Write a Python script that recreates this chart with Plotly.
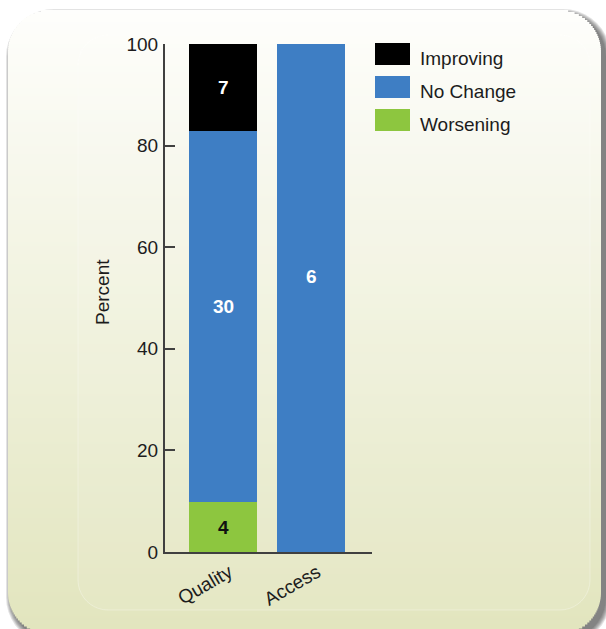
import math
import plotly.graph_objects as go

# ---- data ----
categories = ["Quality", "Access"]
improving = [7, 0]
no_change = [30, 6]
worsening = [4, 0]
series_names = ["Improving", "No Change", "Worsening"]
y_tick_values = [0, 20, 40, 60, 80, 100]

# ---- style ----
W, H = 606, 629
PLOT_L, PLOT_R, PLOT_T, PLOT_B = 165, 372, 44, 552
FONT = "Liberation Sans, Arial, Helvetica, sans-serif"
TEXT_COLOR = "#1c1c1c"
AXIS_COLOR = "#404040"
colors = {"Improving": "#000000", "No Change": "#3e7ec4", "Worsening": "#8dc63f"}
label_font_colors = {"Improving": "#ffffff", "No Change": "#ffffff", "Worsening": "#111111"}
# vertical nudges (px) for segment labels
label_nudge = {("No Change", "Quality"): 10, ("No Change", "Access"): 22}

counts = {"Improving": improving, "No Change": no_change, "Worsening": worsening}
totals = [sum(v) for v in zip(improving, no_change, worsening)]
percent = {k: [c / t * 100 for c, t in zip(v, totals)] for k, v in counts.items()}


def px_x(px):
    return (px - PLOT_L) / (PLOT_R - PLOT_L)


def px_y(py):
    return (PLOT_B - py) / (PLOT_B - PLOT_T)


def rounded_path(x0, y0, x1, y1, r, n=10):
    pts = []
    corners = [
        (x1 - r, y0 + r, -90, 0),
        (x1 - r, y1 - r, 0, 90),
        (x0 + r, y1 - r, 90, 180),
        (x0 + r, y0 + r, 180, 270),
    ]
    for cx, cy, a0, a1 in corners:
        for i in range(n + 1):
            a = math.radians(a0 + (a1 - a0) * i / n)
            pts.append((cx + r * math.cos(a), cy + r * math.sin(a)))
    return "M " + " L ".join(f"{px_x(x):.5f},{px_y(y):.5f}" for x, y in pts) + " Z"


shapes = []

# card shadow (soft, offset down-right)
CX0, CY0, CX1, CY1, CR = 8, 10, 601, 634, 42
for i in range(6):
    grow = 6 - i
    shapes.append(dict(
        type="path", xref="paper", yref="paper", layer="below",
        path=rounded_path(CX0 + 4 - grow, CY0 + 5 - grow, CX1 + 4 + grow, CY1 + 5 + grow, CR + grow),
        fillcolor="rgba(40,40,40,0.13)", line=dict(width=0),
    ))

# card body with vertical gradient, built from thin strips
top_rgb = (254, 254, 252)
bot_rgb = (226, 229, 190)
step = 2
py = CY0
while py < min(CY1, H + 2):
    mid = py + step / 2
    inset = 0.0
    if mid < CY0 + CR:
        dy = CY0 + CR - mid
        inset = CR - math.sqrt(max(CR * CR - dy * dy, 0))
    elif mid > CY1 - CR:
        dy = mid - (CY1 - CR)
        inset = CR - math.sqrt(max(CR * CR - dy * dy, 0))
    t = (mid - CY0) / (H - CY0)
    t = min(max(t, 0), 1)
    c = tuple(round(a + (b - a) * t) for a, b in zip(top_rgb, bot_rgb))
    shapes.append(dict(
        type="rect", xref="paper", yref="paper", layer="below",
        x0=px_x(CX0 + inset), x1=px_x(CX1 - inset),
        y0=px_y(py + step + 0.6), y1=px_y(py),
        fillcolor=f"rgb{c}", line=dict(width=0),
    ))
    py += step

# faint inner panel
shapes.append(dict(
    type="path", xref="paper", yref="paper", layer="below",
    path=rounded_path(78, 35, 590, 610, 30),
    fillcolor="rgba(255,255,255,0.08)", line=dict(color="rgba(255,255,255,0.3)", width=1),
))

# ---- bars (bottom to top) ----
fig = go.Figure()
for name in ["Worsening", "No Change", "Improving"]:
    fig.add_trace(go.Bar(
        x=categories, y=percent[name], name=name,
        marker=dict(color=colors[name], line=dict(width=0)),
        width=0.77, showlegend=False, hoverinfo="skip",
    ))

# ---- segment count labels ----
annotations = []
for ci, cat in enumerate(categories):
    base = 0.0
    for name in ["Worsening", "No Change", "Improving"]:
        p = percent[name][ci]
        if counts[name][ci] > 0:
            annotations.append(dict(
                x=cat, y=base + p / 2, xref="x", yref="y",
                text=f"<b>{counts[name][ci]}</b>", showarrow=False,
                yshift=label_nudge.get((name, cat), 0),
                font=dict(family=FONT, size=19, color=label_font_colors[name]),
            ))
        base += p

# ---- legend ----
legend_top = [43, 76, 109]
for name, top in zip(series_names, legend_top):
    shapes.append(dict(
        type="rect", xref="paper", yref="paper",
        x0=px_x(375), x1=px_x(410), y0=px_y(top + 22), y1=px_y(top),
        fillcolor=colors[name], line=dict(width=0),
    ))
    annotations.append(dict(
        x=px_x(418), y=px_y(top + 15.5), xref="paper", yref="paper",
        xanchor="left", yanchor="middle", text=name, showarrow=False,
        font=dict(family=FONT, size=19, color=TEXT_COLOR),
    ))

# ---- y-axis title ----
annotations.append(dict(
    x=px_x(102), y=px_y(292), xref="paper", yref="paper",
    text="Percent", textangle=-90, showarrow=False,
    xanchor="center", yanchor="middle",
    font=dict(family=FONT, size=19, color=TEXT_COLOR),
))

fig.update_layout(
    width=W, height=H,
    margin=dict(l=PLOT_L, r=W - PLOT_R, t=PLOT_T, b=H - PLOT_B, pad=0),
    paper_bgcolor="#ffffff", plot_bgcolor="rgba(0,0,0,0)",
    barmode="stack",
    shapes=shapes, annotations=annotations,
    font=dict(family=FONT, color=TEXT_COLOR),
    xaxis=dict(
        type="category", range=[-0.66, 1.69],
        showline=True, linecolor=AXIS_COLOR, linewidth=2,
        ticks="", showgrid=False, zeroline=False,
        tickangle=-30, ticklabelshift=6,
        tickfont=dict(family=FONT, size=19, color=TEXT_COLOR),
        fixedrange=True,
    ),
    yaxis=dict(
        range=[0, 100], tickvals=y_tick_values,
        showline=True, linecolor=AXIS_COLOR, linewidth=2,
        ticks="inside", ticklen=10, tickwidth=1.5, tickcolor=AXIS_COLOR,
        showgrid=False, zeroline=False, ticklabelstandoff=1,
        tickfont=dict(family=FONT, size=19, color=TEXT_COLOR),
        fixedrange=True,
    ),
)

fig.write_html("out.html", config={"displayModeBar": False})
